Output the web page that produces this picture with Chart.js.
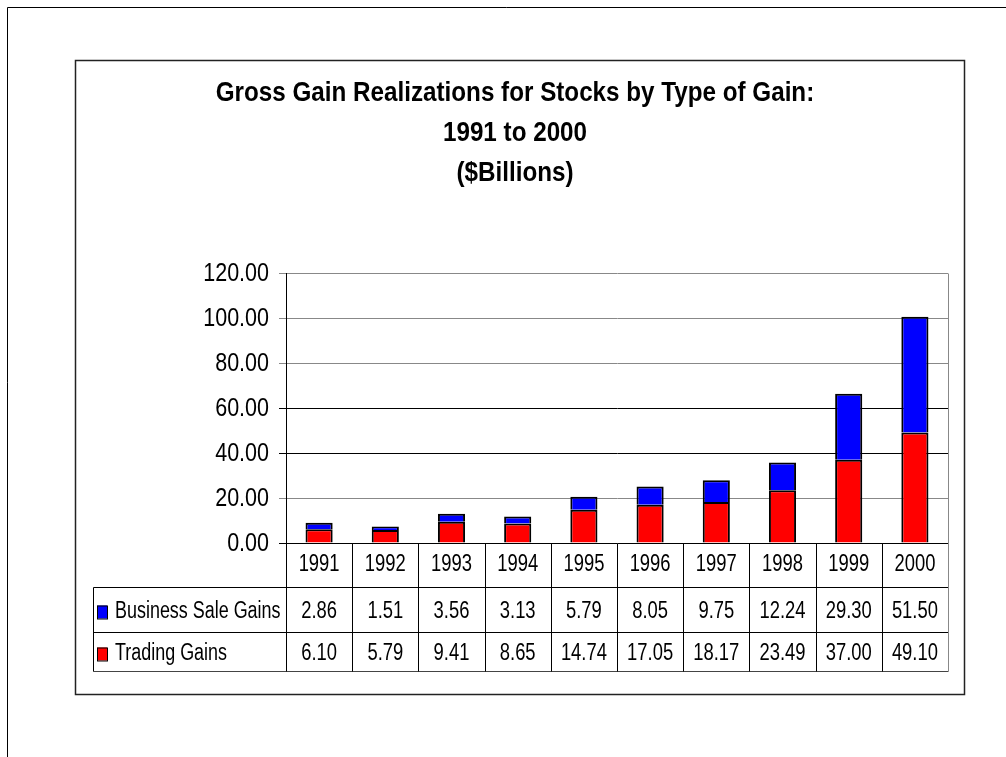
<!DOCTYPE html>
<html>
<head>
<meta charset="utf-8">
<title>Gross Gain Realizations for Stocks by Type of Gain</title>
<script src="https://cdn.jsdelivr.net/npm/chart.js@4/dist/chart.umd.min.js"></script>
<style>
  html, body { margin: 0; padding: 0; background: #fff; }
  #caja { width: 1006px; height: 757px; }
</style>
</head>
<body>
<div id="caja"><canvas id="grafico" width="1006" height="757"></canvas></div>
<script>
// Datos
const anios = ['1991', '1992', '1993', '1994', '1995', '1996', '1997', '1998', '1999', '2000'];
const gananciasVentaNegocio = [2.86, 1.51, 3.56, 3.13, 5.79, 8.05, 9.75, 12.24, 29.30, 51.50];
const gananciasTrading = [6.10, 5.79, 9.41, 8.65, 14.74, 17.05, 18.17, 23.49, 37.00, 49.10];
const titulo = ['Gross Gain Realizations for Stocks by Type of Gain:', '1991 to 2000', '($Billions)'];
const nombresSeries = ['Business Sale Gains', 'Trading Gains'];
const ejeY = { min: 0, max: 120, paso: 20 };

const FUENTE = '"Liberation Sans", Arial, sans-serif';

// texto estrecho (la fuente original es condensada)
function textoEstrecho(ctx, t, x, y, escala) {
    ctx.save();
    ctx.translate(x, y);
    ctx.scale(escala, 1);
    ctx.fillText(t, 0, 0);
    ctx.restore();
}

// Marcos, titulo, etiquetas del eje y tabla de datos
const tablaPlugin = {
    id: 'tabla',
    beforeDraw(chart) {
        const ctx = chart.ctx;
        ctx.save();
        ctx.fillStyle = '#fff';
        ctx.fillRect(0, 0, chart.width, chart.height);
        // marco exterior
        ctx.strokeStyle = '#000';
        ctx.lineWidth = 1;
        ctx.beginPath();
        ctx.moveTo(7.5, chart.height);
        ctx.lineTo(7.5, 7.5);
        ctx.lineTo(chart.width, 7.5);
        ctx.stroke();
        // marco interior
        ctx.strokeStyle = '#222';
        ctx.lineWidth = 1.5;
        ctx.strokeRect(75.5, 60.5, 889, 634);
        // titulo
        ctx.fillStyle = '#000';
        ctx.font = 'bold 28px ' + FUENTE;
        ctx.textAlign = 'center';
        ctx.textBaseline = 'alphabetic';
        titulo.forEach((t, i) => textoEstrecho(ctx, t, 515, 101 + i * 40, 0.865));
        ctx.restore();
    },
    afterDraw(chart) {
        const ctx = chart.ctx;
        const x = chart.scales.x;
        const y = chart.scales.y;
        const area = chart.chartArea;
        const paso = x.getPixelForValue(1) - x.getPixelForValue(0);
        const izq = Math.round(area.left) + 0.5;
        const der = Math.round(area.right) + 0.5;
        const y0 = Math.round(area.bottom) + 0.5;
        const y1 = y0 + 44, y2 = y1 + 45, y3 = y2 + 39;
        const bordeTabla = 93.5;

        ctx.save();
        // etiquetas del eje y, desde los ticks de la escala
        ctx.fillStyle = '#000';
        ctx.font = '25px ' + FUENTE;
        ctx.textAlign = 'right';
        ctx.textBaseline = 'middle';
        y.ticks.forEach(t => {
            textoEstrecho(ctx, t.value.toFixed(2), area.left - 17, y.getPixelForValue(t.value) + 1, 0.86);
        });

        ctx.lineWidth = 1;
        ctx.strokeStyle = '#000';
        const linea = (xa, ya, xb, yb) => {
            ctx.beginPath();
            ctx.moveTo(xa, ya);
            ctx.lineTo(xb, yb);
            ctx.stroke();
        };
        linea(izq, y1, der, y1);
        linea(bordeTabla, y1, der, y1);
        linea(bordeTabla, y2, der, y2);
        ctx.strokeStyle = '#444';
        linea(bordeTabla, y3, der, y3);
        ctx.strokeStyle = '#000';
        linea(bordeTabla, y1, bordeTabla, y3);
        for (let k = 0; k < anios.length; k++) {
            const xc = Math.round(x.getPixelForValue(k) - paso / 2) + 0.5;
            linea(xc, y0, xc, y3);
        }
        // borde derecho del area
        ctx.strokeStyle = '#888';
        linea(der, Math.round(area.top) + 0.5, der, y3);

        // textos de la tabla
        ctx.fillStyle = '#000';
        ctx.font = '23px ' + FUENTE;
        ctx.textAlign = 'center';
        ctx.textBaseline = 'alphabetic';
        const series = [gananciasVentaNegocio, gananciasTrading];
        anios.forEach((a, i) => {
            const xc = x.getPixelForValue(i);
            textoEstrecho(ctx, a, xc, y0 + 27, 0.8);
            textoEstrecho(ctx, series[0][i].toFixed(2), xc, y1 + 30, 0.8);
            textoEstrecho(ctx, series[1][i].toFixed(2), xc, y2 + 27, 0.8);
        });

        // claves de la leyenda
        const colores = ['#0000ff', '#ff0000'];
        const basesTexto = [y1 + 30, y2 + 27];
        ctx.textAlign = 'left';
        nombresSeries.forEach((n, i) => {
            const b = basesTexto[i];
            ctx.fillStyle = colores[i];
            ctx.fillRect(97, b - 12, 10, 13);
            ctx.strokeStyle = '#000';
            ctx.strokeRect(97.5, b - 11.5, 10, 13);
            ctx.fillStyle = '#000';
            textoEstrecho(ctx, n, 115, b, 0.78);
        });
        ctx.restore();
    }
};

function dibujarGrafico() {
    const ctx = document.getElementById('grafico').getContext('2d');
    new Chart(ctx, {
        type: 'bar',
        data: {
            labels: anios,
            datasets: [
                {
                    label: nombresSeries[1],
                    data: gananciasTrading,
                    backgroundColor: '#ff0000',
                    borderColor: '#000',
                    borderWidth: 2,
                    borderSkipped: 'bottom'
                },
                {
                    label: nombresSeries[0],
                    data: gananciasVentaNegocio,
                    backgroundColor: '#0000ff',
                    borderColor: '#000',
                    borderWidth: 2,
                    borderSkipped: 'bottom'
                }
            ]
        },
        options: {
            responsive: false,
            animation: false,
            layout: {
                padding: { left: 0, right: 58, top: 273, bottom: 214 }
            },
            datasets: {
                bar: { categoryPercentage: 1, barPercentage: 0.41 }
            },
            scales: {
                x: {
                    stacked: true,
                    display: false
                },
                y: {
                    stacked: true,
                    min: ejeY.min,
                    max: ejeY.max,
                    afterFit: (scale) => { scale.width = 286; },
                    border: { display: true, color: '#000', width: 1 },
                    grid: {
                        tickLength: 7,
                        color: (c) => {
                            const v = c.tick ? c.tick.value : 0;
                            return (v === 0 || v === 40 || v === 60) ? '#000' : '#888';
                        }
                    },
                    ticks: {
                        stepSize: ejeY.paso,
                        display: false
                    }
                }
            },
            plugins: {
                legend: { display: false },
                tooltip: { enabled: false },
                title: { display: false }
            }
        },
        plugins: [tablaPlugin]
    });
}

window.onload = dibujarGrafico;
</script>
</body>
</html>
